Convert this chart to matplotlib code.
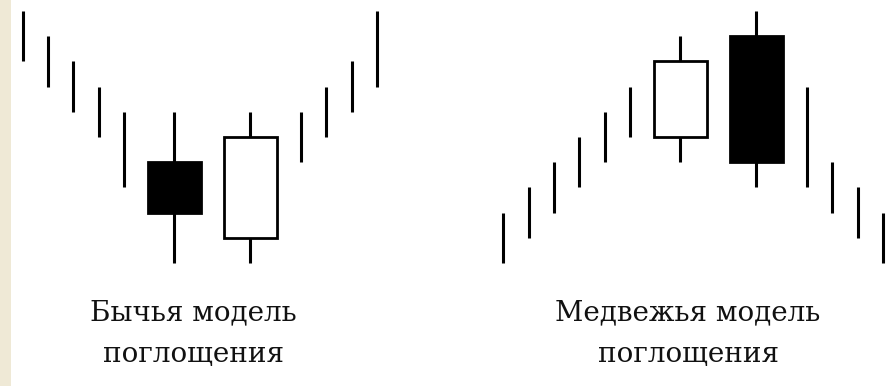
import matplotlib
matplotlib.use("Agg")
import matplotlib.pyplot as plt
from matplotlib.patches import Rectangle

# Plain price bars (no bodies)
bar_x = [0, 1, 2, 3, 4, 11, 12, 13, 14, 19, 20, 21, 22, 23, 24, 31, 32, 33, 34]
bar_high = [10, 9, 8, 7, 6, 6, 7, 8, 10, 2, 3, 4, 5, 6, 7, 7, 4, 3, 2]
bar_low = [8, 7, 6, 5, 3, 4, 5, 6, 7, 0, 1, 2, 3, 4, 5, 3, 2, 1, 0]

# Engulfing candles
candle_x = [6, 9, 26, 29]
candle_open = [4, 1, 5, 9]
candle_close = [2, 5, 8, 4]
candle_high = [6, 6, 9, 10]
candle_low = [0, 0, 4, 3]

label_left = ["Бычья модель", "поглощения"]
label_right = ["Медвежья модель", "поглощения"]

fig = plt.figure(figsize=(8.96, 3.86), dpi=100)
fig.patch.set_facecolor("white")
ax = fig.add_axes([0, 0, 1, 1])
ax.set_xlim(-0.897, 34.52)
ax.set_ylim(-4.881, 10.437)
ax.axis("off")

# beige strip on the left edge
ax.add_patch(Rectangle((0, 0), 11 / 896, 1, transform=ax.transAxes,
                       facecolor="#EFE9D6", edgecolor="none", zorder=0))

lw = 2.2
ax.vlines(bar_x, bar_low, bar_high, colors="black", linewidth=lw,
          capstyle="butt", zorder=2)

body_w = 2.1
for x, o, c, h, l in zip(candle_x, candle_open, candle_close, candle_high, candle_low):
    ax.vlines(x, l, h, colors="black", linewidth=lw, capstyle="butt", zorder=2)
    fc = "white" if c > o else "black"
    ax.add_patch(Rectangle((x - body_w / 2, min(o, c)), body_w, abs(c - o),
                           facecolor=fc, edgecolor="black", linewidth=2.0,
                           zorder=3))

font = dict(family="DejaVu Serif", fontsize=20, color="#111111",
            ha="center", va="baseline")
for cx, lines in [(193 / 896, label_left), (688 / 896, label_right)]:
    ax.text(cx, (386 - 320) / 386, lines[0], transform=ax.transAxes, **font)
    ax.text(cx, (386 - 362) / 386, lines[1], transform=ax.transAxes, **font)

fig.savefig("out.png", dpi=100, facecolor="white")
